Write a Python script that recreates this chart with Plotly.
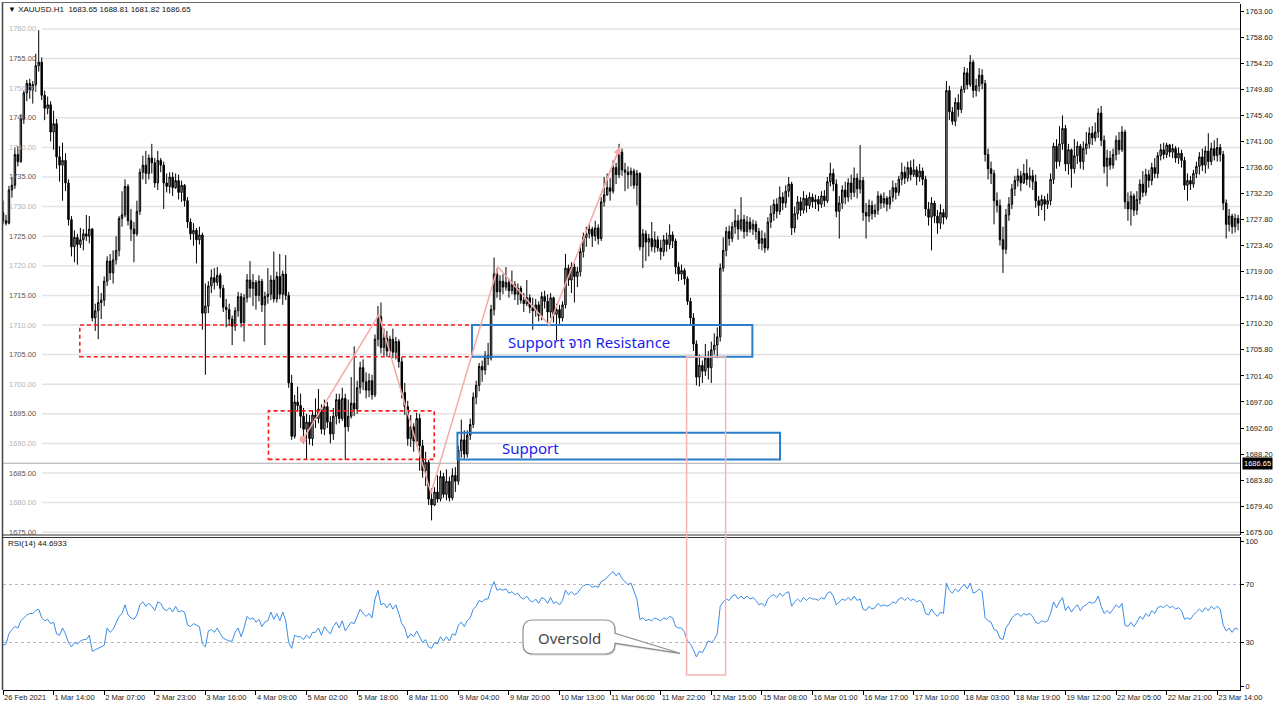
import plotly.graph_objects as go

# ---------------- data ----------------
C = [
1727.6,1727.2,1732.8,1733.6,1738.8,1737.6,1744.8,1749.2,1750.8,1749.6,
1750.6,1753.8,1754.4,1748.8,1746.6,1747.2,1742.6,1744.0,1738.4,1737.0,
1737.8,1734.0,1727.8,1723.2,1724.8,1723.6,1724.4,1725.4,1725.0,1726.2,
1711.2,1712.4,1713.8,1714.2,1717.4,1720.8,1718.8,1721.0,1722.6,1728.0,
1728.6,1733.4,1727.6,1726.2,1725.4,1729.2,1735.8,1737.0,1735.6,1738.2,
1737.4,1734.0,1737.8,1737.0,1734.0,1733.4,1735.0,1733.2,1734.4,1732.4,
1733.6,1731.0,1727.4,1725.4,1726.0,1724.4,1725.2,1712.0,1713.2,1716.6,
1718.0,1717.2,1718.4,1716.2,1713.0,1712.6,1711.0,1709.8,1712.4,1714.8,
1710.4,1714.6,1717.6,1716.2,1717.2,1715.0,1717.4,1713.4,1714.8,1715.2,
1717.6,1714.4,1718.2,1715.2,1718.6,1715.0,1700.2,1691.2,1697.0,1696.4,
1694.6,1692.4,1693.6,1690.8,1694.8,1694.2,1695.8,1692.4,1696.2,1693.6,
1691.6,1694.6,1697.4,1694.2,1697.6,1692.8,1694.6,1696.8,1695.8,1699.4,
1702.8,1700.4,1699.0,1700.6,1698.2,1707.6,1711.4,1706.2,1707.8,1705.6,
1707.6,1705.4,1707.2,1703.8,1698.6,1696.2,1690.8,1692.8,1690.4,1694.2,
1689.6,1685.4,1686.8,1680.6,1679.6,1681.8,1680.6,1684.4,1681.4,1683.6,
1680.8,1684.6,1683.6,1688.8,1690.6,1688.2,1691.4,1693.2,1697.8,1699.8,
1703.0,1702.4,1704.8,1704.4,1712.6,1718.6,1715.6,1717.4,1716.4,1717.2,
1715.8,1716.8,1715.2,1716.2,1714.2,1713.6,1714.6,1713.0,1712.4,1713.4,
1711.6,1714.8,1714.0,1712.2,1714.6,1711.8,1712.6,1711.2,1713.4,1719.6,
1717.6,1719.8,1718.2,1719.0,1722.4,1724.8,1725.4,1726.2,1725.0,1726.4,
1724.6,1730.8,1732.0,1733.2,1732.6,1736.6,1735.4,1739.2,1736.2,1735.8,
1735.4,1736.0,1733.6,1735.6,1723.2,1725.4,1724.0,1724.6,1723.2,1724.4,
1723.0,1722.4,1724.4,1723.6,1725.2,1724.2,1719.8,1718.6,1719.2,1717.8,
1714.0,1711.2,1706.8,1701.2,1703.2,1702.2,1704.4,1702.8,1705.8,1706.6,
1708.0,1719.6,1722.6,1725.8,1724.6,1726.6,1727.6,1726.2,1727.8,1725.8,
1727.4,1726.2,1727.0,1725.8,1723.8,1724.6,1723.0,1727.4,1728.8,1730.4,
1729.2,1731.6,1730.6,1732.6,1733.8,1726.4,1728.8,1730.8,1729.4,1731.4,
1730.2,1731.6,1730.8,1731.2,1730.4,1731.8,1731.0,1734.2,1735.6,1733.8,
1729.2,1730.6,1732.8,1731.6,1734.0,1732.4,1734.8,1733.0,1734.4,1729.0,
1728.4,1730.2,1728.8,1729.4,1731.8,1730.6,1731.4,1730.4,1731.6,1733.2,
1732.4,1734.6,1735.8,1734.8,1736.6,1735.4,1736.2,1735.0,1736.0,1734.6,
1729.6,1728.2,1730.6,1728.4,1727.2,1729.0,1728.2,1749.6,1746.0,1744.4,
1747.6,1746.4,1749.8,1752.6,1750.6,1754.4,1749.6,1750.4,1752.2,1750.8,
1738.8,1736.4,1735.6,1731.0,1730.2,1724.4,1722.8,1728.6,1730.4,1733.0,
1734.4,1735.2,1734.0,1735.6,1734.6,1735.2,1734.2,1731.0,1730.2,1731.2,
1730.4,1731.0,1734.6,1740.2,1737.6,1740.6,1743.2,1737.2,1739.6,1736.4,
1738.6,1740.2,1737.6,1739.8,1740.6,1742.4,1741.6,1742.6,1745.8,1741.2,
1736.8,1738.2,1737.0,1738.8,1741.2,1739.6,1742.6,1730.8,1729.6,1731.8,
1729.4,1731.2,1733.8,1732.4,1735.4,1734.4,1736.6,1735.6,1738.6,1739.6,
1738.8,1740.4,1739.2,1739.8,1738.2,1739.0,1737.8,1733.6,1734.4,1733.8,
1735.6,1736.8,1738.4,1737.0,1739.4,1737.6,1739.8,1738.6,1740.0,1738.8,
1730.6,1727.0,1728.4,1726.6,1728.0,1727.2]

H = [
1731.0,1728.6,1733.5,1735.0,1740.0,1740.2,1745.6,1749.6,1751.4,1751.6,
1751.2,1755.8,1759.8,1755.2,1749.6,1748.6,1747.8,1746.2,1744.8,1740.2,
1740.8,1739.0,1734.6,1728.4,1726.0,1725.4,1726.4,1726.2,1728.6,1728.4,
1726.4,1713.6,1716.6,1715.4,1718.2,1721.6,1722.0,1722.6,1725.0,1728.4,
1732.6,1734.6,1733.8,1729.6,1727.4,1731.0,1736.4,1738.6,1739.4,1738.8,
1740.6,1738.2,1739.4,1738.2,1737.6,1735.6,1735.8,1735.8,1735.6,1735.4,
1734.4,1733.8,1731.6,1728.0,1727.2,1726.4,1726.6,1725.6,1717.0,1717.4,
1719.4,1719.6,1719.8,1718.8,1716.8,1714.4,1713.6,1711.6,1713.0,1715.6,
1715.4,1715.2,1718.6,1720.8,1718.6,1717.6,1718.4,1717.8,1715.6,1719.6,
1718.4,1722.4,1719.0,1722.0,1719.2,1721.8,1715.6,1701.6,1698.2,1699.6,
1698.4,1696.0,1695.0,1694.8,1695.6,1697.6,1699.2,1696.6,1697.4,1697.0,
1694.6,1696.0,1698.4,1698.4,1699.4,1698.4,1697.4,1701.2,1706.4,1700.6,
1703.8,1704.2,1702.0,1701.8,1701.6,1708.4,1713.2,1713.8,1709.4,1709.0,
1708.2,1709.4,1708.0,1707.6,1704.6,1700.2,1697.2,1694.8,1693.4,1695.2,
1695.0,1690.6,1688.6,1687.2,1682.4,1682.6,1684.6,1685.4,1685.0,1685.6,
1684.4,1685.8,1686.0,1689.6,1694.0,1692.2,1692.2,1694.2,1698.6,1700.6,
1703.6,1704.0,1705.6,1707.0,1713.4,1721.4,1719.6,1718.4,1718.6,1719.8,
1717.8,1719.2,1717.4,1717.0,1716.6,1715.4,1717.6,1715.2,1714.6,1714.4,
1714.0,1715.6,1715.8,1715.2,1715.4,1714.8,1713.6,1713.4,1714.0,1722.0,
1720.2,1720.6,1720.4,1719.8,1723.6,1725.6,1726.6,1727.0,1726.6,1727.6,
1727.0,1731.6,1735.0,1735.6,1734.8,1737.8,1737.4,1740.6,1739.8,1737.4,
1736.8,1736.6,1736.4,1736.2,1735.8,1726.2,1726.0,1725.4,1727.4,1725.8,
1725.0,1724.4,1725.2,1725.6,1727.0,1725.8,1724.6,1720.6,1720.2,1719.6,
1718.2,1714.6,1712.0,1707.4,1705.0,1704.0,1706.8,1705.6,1707.2,1708.6,
1709.6,1720.4,1724.8,1726.6,1726.8,1727.4,1729.6,1728.6,1731.6,1728.6,
1728.4,1728.2,1727.8,1727.6,1726.4,1726.0,1725.6,1728.2,1730.2,1731.2,
1731.4,1733.4,1732.4,1733.6,1735.0,1734.2,1730.0,1731.8,1731.6,1732.6,
1732.0,1732.4,1732.2,1732.0,1731.8,1732.6,1732.8,1735.0,1737.4,1736.4,
1734.6,1731.8,1733.6,1734.2,1734.8,1735.4,1736.6,1735.6,1740.4,1735.0,
1730.6,1731.2,1731.0,1730.4,1732.6,1732.2,1732.4,1731.8,1732.8,1734.4,
1734.0,1735.2,1737.4,1736.8,1737.6,1737.8,1738.0,1736.8,1737.2,1736.6,
1735.2,1730.8,1731.6,1731.0,1729.4,1730.4,1729.6,1751.2,1750.4,1746.8,
1748.4,1749.0,1750.4,1753.6,1753.4,1755.6,1754.8,1751.6,1753.4,1753.2,
1751.4,1739.8,1737.6,1736.2,1732.4,1731.2,1726.6,1729.6,1731.6,1733.8,
1735.2,1736.4,1736.0,1737.2,1738.0,1736.6,1736.2,1735.4,1731.8,1732.0,
1731.8,1732.2,1735.6,1740.8,1741.4,1743.6,1745.4,1743.8,1740.6,1739.8,
1741.4,1741.0,1740.6,1741.0,1742.6,1743.4,1743.6,1744.2,1746.6,1747.0,
1742.0,1739.6,1739.4,1739.8,1742.0,1742.6,1743.6,1743.0,1732.4,1732.6,
1732.2,1732.6,1734.6,1736.0,1736.4,1736.2,1737.4,1738.2,1739.2,1740.6,
1740.8,1740.8,1740.6,1740.6,1740.2,1740.0,1739.6,1738.4,1735.6,1735.2,
1736.2,1737.6,1739.2,1739.8,1740.2,1742.4,1740.8,1741.2,1741.6,1740.6,
1739.4,1731.2,1729.6,1728.8,1728.8,1728.6]

L = [
1727.0,1726.8,1727.0,1731.5,1733.0,1736.8,1737.4,1744.0,1747.8,1748.2,
1747.4,1749.4,1752.8,1748.0,1744.6,1745.6,1741.0,1739.6,1736.4,1734.2,
1731.0,1732.6,1726.8,1721.6,1720.6,1720.2,1723.0,1722.6,1724.2,1723.8,
1710.6,1709.0,1707.6,1711.0,1713.2,1716.6,1717.6,1717.0,1720.2,1721.6,
1726.6,1728.2,1726.8,1724.2,1720.6,1725.0,1728.6,1734.6,1733.8,1734.6,
1735.6,1733.2,1732.8,1735.8,1729.6,1732.4,1732.2,1731.8,1733.0,1731.2,
1730.8,1730.0,1726.4,1724.4,1723.4,1720.4,1723.6,1709.2,1701.6,1712.0,
1715.4,1716.0,1716.6,1714.6,1712.2,1709.6,1709.8,1706.6,1709.0,1711.4,
1709.6,1707.2,1713.8,1714.6,1713.2,1712.6,1714.0,1712.2,1706.6,1713.6,
1714.2,1713.8,1713.8,1714.4,1713.4,1714.2,1699.4,1690.6,1690.8,1695.6,
1692.6,1690.0,1687.2,1689.8,1689.6,1692.6,1693.4,1691.6,1691.4,1692.6,
1690.0,1690.6,1693.2,1693.4,1693.8,1687.2,1692.0,1694.2,1694.6,1695.0,
1698.4,1699.0,1697.6,1697.8,1697.4,1697.8,1706.4,1705.2,1704.8,1704.6,
1704.8,1704.4,1704.2,1702.8,1697.6,1694.8,1689.6,1689.4,1688.6,1689.6,
1685.4,1684.2,1682.8,1679.6,1677.0,1679.4,1680.0,1680.2,1680.8,1680.4,
1680.2,1680.4,1681.8,1683.0,1687.6,1687.4,1687.6,1690.6,1692.6,1696.6,
1698.8,1700.4,1701.6,1703.2,1704.0,1711.6,1714.6,1714.2,1715.2,1715.8,
1714.6,1715.2,1714.2,1713.4,1713.6,1712.2,1713.2,1712.0,1709.2,1711.4,
1710.6,1710.8,1712.8,1709.8,1711.2,1710.4,1707.4,1710.2,1710.6,1712.8,
1716.6,1715.4,1713.8,1716.4,1718.2,1721.4,1723.2,1724.6,1723.2,1724.2,
1723.6,1724.2,1730.0,1731.8,1731.0,1732.2,1733.8,1734.8,1735.2,1732.6,
1733.0,1733.4,1733.0,1730.2,1722.6,1719.6,1720.8,1721.6,1722.4,1722.2,
1722.4,1721.0,1721.6,1722.4,1722.8,1723.0,1718.6,1717.4,1717.6,1716.8,
1713.4,1710.0,1705.6,1699.8,1699.6,1700.2,1701.4,1700.8,1700.2,1705.0,
1704.4,1707.2,1719.0,1721.6,1723.4,1724.0,1725.4,1724.4,1725.8,1724.6,
1725.0,1725.6,1725.2,1724.4,1722.8,1722.6,1722.2,1722.6,1726.4,1727.6,
1728.0,1728.6,1729.4,1729.8,1731.6,1725.2,1725.6,1727.8,1728.4,1728.8,
1729.0,1729.6,1729.8,1729.6,1729.2,1729.8,1730.0,1730.6,1733.4,1732.6,
1728.2,1724.6,1729.6,1730.4,1730.8,1731.2,1731.6,1731.4,1732.2,1727.6,
1724.6,1727.4,1727.8,1728.2,1728.6,1729.6,1729.8,1729.2,1729.6,1730.8,
1731.2,1731.8,1733.6,1733.8,1734.2,1734.4,1735.0,1733.6,1734.2,1733.6,
1728.4,1726.8,1722.6,1727.2,1725.4,1726.2,1727.0,1727.8,1744.6,1743.8,
1743.6,1745.2,1745.8,1749.2,1749.8,1750.2,1748.4,1748.6,1749.4,1749.8,
1737.6,1734.6,1733.8,1727.0,1729.0,1723.4,1718.8,1722.0,1727.6,1729.6,
1731.8,1733.4,1732.6,1733.8,1733.6,1733.2,1732.8,1729.8,1728.4,1729.4,
1727.6,1729.6,1730.2,1733.8,1736.4,1736.8,1739.6,1736.0,1735.4,1733.2,
1735.6,1737.2,1736.4,1736.2,1738.8,1739.8,1740.4,1741.0,1741.6,1740.2,
1735.6,1733.4,1736.2,1736.4,1737.8,1738.8,1739.2,1729.6,1727.6,1726.8,
1728.4,1728.6,1730.4,1731.6,1731.8,1733.2,1733.6,1734.8,1734.8,1737.8,
1738.0,1738.2,1738.4,1738.2,1737.4,1737.2,1736.6,1732.8,1731.0,1732.8,
1733.2,1734.8,1735.4,1736.0,1735.6,1736.4,1737.0,1737.8,1737.6,1737.6,
1729.4,1724.6,1725.8,1725.4,1725.6,1726.0]

FIRST_OPEN = 1729.0

RSI = [
28,29,36,39,41,40,45,47,49,50,
50,52,53,47,45,46,43,44,36,35,
40,36,30,27,30,29,31,32,32,35,
24,25,26,27,28,40,37,39,44,48,
50,56,49,47,46,49,56,58,55,57,
55,52,58,57,53,52,54,51,55,51,
52,51,42,41,43,42,41,29,27,38,
39,37,40,36,33,32,31,31,37,40,
34,40,48,46,47,44,46,41,44,45,
51,46,50,45,51,45,30,26,35,34,
34,32,35,33,37,37,40,35,41,38,
36,41,44,40,45,38,41,44,43,48,
53,50,48,50,47,60,66,56,57,54,
57,53,56,50,43,40,33,36,34,38,
34,30,32,27,26,30,29,34,31,34,
31,36,35,42,44,41,45,47,53,55,
59,58,60,60,67,72,66,67,66,67,
64,65,63,64,61,60,62,59,58,60,
57,61,60,57,61,57,58,56,59,66,
63,65,63,64,67,69,70,70,68,69,
68,72,73,75,77,79,76,78,74,72,
70,71,66,60,46,47,45,46,45,47,
46,45,47,46,48,47,41,40,40,37,
31,29,25,20,24,23,27,31,30,32,
36,55,58,60,59,62,63,60,62,60,
62,60,61,59,56,57,55,60,62,63,
61,64,62,64,65,55,58,60,58,61,
59,61,60,60,59,61,60,64,65,62,
56,58,60,59,61,59,62,59,60,53,
52,55,53,54,57,55,56,55,56,58,
57,60,61,59,61,59,60,58,59,57,
50,49,53,50,48,51,50,71,66,64,
67,65,68,70,67,71,64,65,67,65,
47,45,44,39,38,33,32,40,43,47,
49,50,48,50,49,50,48,44,43,45,
44,45,50,58,54,58,61,52,55,51,
54,56,52,55,56,58,57,58,62,55,
50,52,50,53,56,54,57,42,41,44,
41,44,48,46,50,48,52,50,54,55,
54,56,54,55,53,54,52,46,47,46,
49,51,53,51,54,52,55,53,55,53,
42,38,40,37,40,39]

X_LABELS = ["26 Feb 2021", "1 Mar 14:00", "2 Mar 07:00", "2 Mar 23:00", "3 Mar 16:00",
            "4 Mar 09:00", "5 Mar 02:00", "5 Mar 18:00", "8 Mar 11:00", "9 Mar 04:00",
            "9 Mar 20:00", "10 Mar 13:00", "11 Mar 06:00", "11 Mar 22:00", "12 Mar 15:00",
            "15 Mar 08:00", "16 Mar 01:00", "16 Mar 17:00", "17 Mar 10:00", "18 Mar 03:00",
            "18 Mar 19:00", "19 Mar 12:00", "22 Mar 05:00", "22 Mar 21:00", "23 Mar 14:00"]
BARS_PER_LABEL = 17
RIGHT_TICKS = [1675.00, 1679.40, 1683.80, 1688.20, 1692.60, 1697.00, 1701.40, 1705.80,
               1710.20, 1714.60, 1719.00, 1723.40, 1727.80, 1732.20, 1736.60, 1741.00,
               1745.40, 1749.80, 1754.20, 1758.60, 1763.00]
LEFT_LABELS = [1760, 1755, 1750, 1745, 1740, 1735, 1730, 1725, 1720, 1715, 1710,
               1705, 1700, 1695, 1690, 1685, 1680, 1675]
RSI_TICKS = [0, 30, 70, 100]
RSI_LEVELS = [30, 70]
TITLE = "\u25BC XAUUSD.H1  1683.65 1688.81 1681.82 1686.65"
RSI_TITLE = "RSI(14) 44.6933"
BID = 1686.65

# ---------------- build ----------------
N = min(len(C), len(H), len(L), len(RSI))
C, H, L, RSI = C[:N], H[:N], L[:N], RSI[:N]
X = list(range(N))
O = [FIRST_OPEN] + C[:-1]
HH = [max(a, b, c) for a, b, c in zip(H, O, C)]
LL = [min(a, b, c) for a, b, c in zip(L, O, C)]

W, HT = 1280, 710
ML, MR, MT, MB = 3, 40, 4, 20
PW, PH = W - ML - MR, HT - MT - MB


def px(x):
    return (x - ML) / PW


def py(y):
    return (HT - MB - y) / PH


XR = [0, 415.65]
YR = [1674.53, 1764.22]
RR = [-2.76, 102.76]
FONT = "Liberation Sans, Arial, sans-serif"

fig = go.Figure()
fig.add_trace(go.Candlestick(
    x=X, open=O, high=HH, low=LL, close=C, xaxis="x", yaxis="y",
    increasing=dict(line=dict(color="#000000", width=1), fillcolor="#b4b4b4"),
    decreasing=dict(line=dict(color="#000000", width=1), fillcolor="#000000"),
    whiskerwidth=0, showlegend=False, hoverinfo="skip"))
fig.add_trace(go.Scatter(
    x=X, y=RSI, xaxis="x2", yaxis="y2", mode="lines",
    line=dict(color="#3b8de8", width=1), showlegend=False, hoverinfo="skip"))

tickfont = dict(family=FONT, size=7.5, color="#222222")
fig.update_layout(
    width=W, height=HT, margin=dict(l=ML, r=MR, t=MT, b=MB, autoexpand=False),
    paper_bgcolor="white", plot_bgcolor="white", showlegend=False,
    xaxis=dict(domain=[0, 1], anchor="y", range=XR, showticklabels=False, ticks="",
               showgrid=False, zeroline=False, rangeslider=dict(visible=False),
               automargin=False),
    xaxis2=dict(domain=[0, 1], anchor="y2", range=XR,
                tickvals=[i * BARS_PER_LABEL for i in range(len(X_LABELS))],
                ticktext=X_LABELS, ticks="outside", ticklen=4, tickcolor="#000",
                tickangle=0, ticklabelposition="outside right", tickfont=tickfont,
                showgrid=False, zeroline=False, showline=True, linecolor="#000",
                linewidth=1, automargin=False),
    yaxis=dict(domain=[py(535), 1], anchor="x", side="right", range=YR,
               tickvals=RIGHT_TICKS, ticktext=[f"{v:.2f}" for v in RIGHT_TICKS],
               ticks="outside", ticklen=3, tickcolor="#000", tickfont=tickfont,
               showgrid=False, zeroline=False, showline=True, linecolor="#000",
               linewidth=1, automargin=False),
    yaxis2=dict(domain=[0, py(537)], anchor="x2", side="right", range=RR,
                tickvals=RSI_TICKS, ticktext=[str(v) for v in RSI_TICKS],
                ticks="outside", ticklen=3, tickcolor="#000", tickfont=tickfont,
                showgrid=False, zeroline=False, showline=True, linecolor="#000",
                linewidth=1, automargin=False),
)

shapes = []
for v in LEFT_LABELS:
    shapes.append(dict(type="line", xref="paper", yref="y", x0=px(42), x1=1, y0=v, y1=v,
                       line=dict(color="#e2e2e2", width=1.5), layer="below"))
shapes.append(dict(type="line", xref="paper", yref="y", x0=0, x1=1, y0=BID, y1=BID,
                   line=dict(color="#a9a9a9", width=1), layer="below"))
for v in RSI_LEVELS:
    shapes.append(dict(type="line", xref="paper", yref="y2", x0=0, x1=1, y0=v, y1=v,
                       line=dict(color="#b8b8b8", width=1, dash="3px,3px"), layer="below"))
shapes += [
    dict(type="line", xref="paper", yref="paper", x0=px(2.5), x1=px(2.5), y0=py(690), y1=py(2),
         line=dict(color="#444", width=1.5)),
    dict(type="line", xref="paper", yref="paper", x0=px(2), x1=1, y0=py(2.5), y1=py(2.5),
         line=dict(color="#666", width=1)),
    dict(type="line", xref="paper", yref="paper", x0=px(2), x1=1, y0=py(535), y1=py(535),
         line=dict(color="#333", width=1.2)),
    dict(type="line", xref="paper", yref="paper", x0=px(2), x1=1, y0=py(537.5), y1=py(537.5),
         line=dict(color="#333", width=1)),
]
RED = "#ff1a1a"
BLUE = "#2a7dc8"
PINK = "#f5a9a9"
shapes += [
    dict(type="rect", xref="x", yref="y", x0=25.8, x1=157.6, y0=1704.65, y1=1710.0,
         line=dict(color=RED, width=1.6, dash="4px,3px")),
    dict(type="rect", xref="x", yref="y", x0=89.2, x1=144.9, y0=1687.3, y1=1695.5,
         line=dict(color=RED, width=1.6, dash="4px,3px")),
    dict(type="rect", xref="x", yref="y", x0=157.6, x1=251.8, y0=1704.65, y1=1710.0,
         line=dict(color=BLUE, width=2)),
    dict(type="rect", xref="x", yref="y", x0=152.7, x1=261.1, y0=1687.3, y1=1691.8,
         line=dict(color=BLUE, width=2)),
    dict(type="path", xref="x", yref="y",
         path="M 100.8,1690.7 L 126.3,1711.7 L 143.8,1681.6 L 166.3,1719.8 L 183.5,1710.0 L 207.3,1740.1",
         line=dict(color=PINK, width=1.5)),
    dict(type="circle", xref="x", yref="y", xsizemode="pixel", ysizemode="pixel",
         xanchor=100.8, yanchor=1690.7, x0=-3, x1=3, y0=-3, y1=3,
         fillcolor=PINK, line=dict(color=PINK, width=1)),
    dict(type="rect", xref="x", yref="paper", x0=229.7, x1=242.8, y0=py(675), y1=py(356.7),
         line=dict(color="#f7b4b4", width=1.5)),
]


def P(xp, yp):
    return f"{px(xp):.5f},{py(yp):.5f}"


def callout(dx=0, dy=0):
    l, r, t, b, rad = 523 + dx, 615 + dx, 620 + dy, 654 + dy, 10
    return ("M " + P(l + rad, t) + " L " + P(r - rad, t) + " Q " + P(r, t) + " " + P(r, t + rad) +
            " L " + P(r, 633.3 + dy) + " L " + P(680 + dx, 653.3 + dy) + " L " + P(r, 643.3 + dy) +
            " L " + P(r, b - rad) + " Q " + P(r, b) + " " + P(r - rad, b) +
            " L " + P(l + rad, b) + " Q " + P(l, b) + " " + P(l, b - rad) +
            " L " + P(l, t + rad) + " Q " + P(l, t) + " " + P(l + rad, t) + " Z")


shapes.append(dict(type="path", xref="paper", yref="paper", path=callout(1.2, 1.8),
                   fillcolor="#e4e4e4", line=dict(width=0)))
shapes.append(dict(type="path", xref="paper", yref="paper", path=callout(),
                   fillcolor="white", line=dict(color="#8f8f8f", width=1.2)))
fig.update_layout(shapes=shapes)

ann = []
ann.append(dict(xref="paper", yref="paper", x=px(6), y=py(10), xanchor="left", yanchor="middle",
                text=TITLE, showarrow=False, font=dict(family=FONT, size=8, color="#111")))
ann.append(dict(xref="paper", yref="paper", x=px(6), y=py(543), xanchor="left", yanchor="middle",
                text=RSI_TITLE, showarrow=False, font=dict(family=FONT, size=8, color="#111")))
for k, v in enumerate(LEFT_LABELS):
    ann.append(dict(xref="paper", yref="y", x=px(7), y=v, xanchor="left", yanchor="middle",
                    text=f"{v:.2f}", showarrow=False,
                    font=dict(family=FONT, size=7.5, color="#b3b3b3" if k % 2 == 0 else "#555555")))
ann.append(dict(xref="paper", yref="y", x=1, y=BID, xanchor="left", yanchor="middle", xshift=2,
                text=f"{BID:.2f}", showarrow=False, bgcolor="#000000", borderpad=1,
                font=dict(family=FONT, size=7.5, color="#ffffff")))
ann.append(dict(xref="paper", yref="y", x=px(506), y=1706.9, xanchor="left", yanchor="middle",
                text="Support จาก Resistance", showarrow=False,
                font=dict(family="Noto Sans Thai, Noto Sans, DejaVu Sans, sans-serif", size=15, color="#1c1cf0")))
ann.append(dict(xref="paper", yref="y", x=px(500), y=1689.3, xanchor="left", yanchor="middle",
                text="Support", showarrow=False,
                font=dict(family="Noto Sans, sans-serif", size=15, color="#1c1cf0")))
ann.append(dict(xref="paper", yref="paper", x=px(569), y=py(637.5), xanchor="center", yanchor="middle",
                text="Oversold", showarrow=False,
                font=dict(family="Noto Sans, sans-serif", size=15, color="#474747")))
ann.append(dict(xref="x", yref="y", axref="x", ayref="y", x=207.3, y=1740.1, ax=200.2, ay=1731.1,
                text="", showarrow=True, arrowhead=2, arrowsize=1, arrowwidth=1.5,
                arrowcolor=PINK))
fig.update_layout(annotations=ann)

fig.write_html("out.html", config={"displayModeBar": False},
               post_script="document.body.style.margin='0';document.body.style.overflow='hidden';")
